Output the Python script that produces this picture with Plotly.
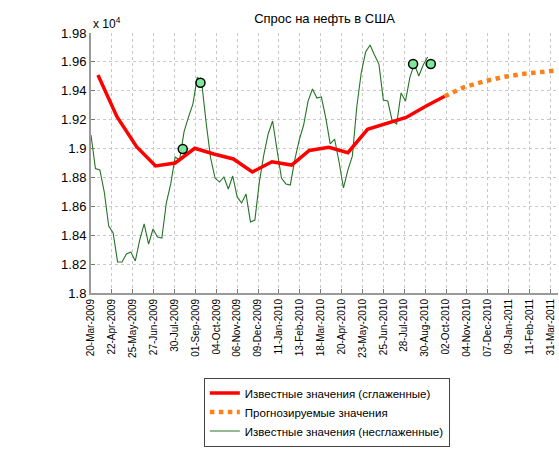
import pandas as pd
import plotly.graph_objects as go

# ---- DATA -------
# smoothed (monthly) known values
smooth_dates = pd.date_range('2009-03-31', '2010-09-30', freq='ME')
smooth_vals = [19509, 19221, 19013, 18880, 18900, 19002, 18962, 18928, 18838, 18909,
               18886, 18987, 19009, 18971, 19133, 19173, 19215, 19293, 19362]

# forecast (monthly)
fc_dates = pd.date_range('2010-09-30', '2011-03-31', freq='ME')
fc_vals = [19362, 19426, 19464, 19495, 19516, 19530, 19544]

# raw weekly known values
raw_dates = pd.date_range('2009-03-20', periods=77, freq='7D')
raw_vals = [19094, 18862, 18852, 18699, 18464, 18415, 18215, 18215, 18270, 18284,
            18222, 18367, 18478, 18339, 18443, 18388, 18381, 18623, 18755, 18942,
            18921, 19115, 19218, 19308, 19495, 19454, 19177, 18935, 18796, 18768,
            18803, 18720, 18810, 18665, 18623, 18685, 18492, 18505, 18768, 18955,
            19101, 19191, 18990, 18796, 18755, 18748, 18921, 19059, 19163, 19329,
            19412, 19350, 19357, 19212, 19032, 19066, 18907, 18727, 18852, 18948,
            19288, 19523, 19668, 19717, 19648, 19585, 19336, 19329, 19191, 19170,
            19385, 19329, 19495, 19585, 19502, 19578, 19634]

# highlighted points
mark_dates = pd.to_datetime(['2009-08-12', '2009-09-09', '2010-08-11', '2010-09-08'])
mark_vals = [18997, 19456, 19585, 19585]

# axis ticks
xtick_dates = pd.date_range('2009-03-20', periods=23, freq='33D')
xtick_text = [d.strftime('%d-%b-%Y') for d in xtick_dates[:-1]] + ['31-Mar-2011']
ytick_vals = [18000, 18200, 18400, 18600, 18800, 19000, 19200, 19400, 19600, 19800]
ytick_text = ['1.8', '1.82', '1.84', '1.86', '1.88', '1.9', '1.92', '1.94', '1.96', '1.98']

font_family = 'Liberation Sans, Arial, sans-serif'

fig = go.Figure()

fig.add_trace(go.Scatter(x=raw_dates, y=raw_vals, mode='lines',
                         line=dict(color='#267426', width=1.1),
                         name='Известные значения (несглаженные)', legendrank=3))
fig.add_trace(go.Scatter(x=smooth_dates, y=smooth_vals, mode='lines',
                         line=dict(color='#ff0000', width=3.5),
                         name='Известные значения (сглаженные)', legendrank=1))
fig.add_trace(go.Scatter(x=fc_dates, y=fc_vals, mode='lines',
                         line=dict(color='#ff8019', width=4.5, dash='dot'),
                         name='Прогнозируемые значения', legendrank=2))
fig.add_trace(go.Scatter(x=mark_dates, y=mark_vals, mode='markers',
                         marker=dict(size=9, color='#7ee89a', line=dict(color='black', width=1.5)),
                         showlegend=False, cliponaxis=False))

fig.update_layout(
    width=559, height=464,
    margin=dict(l=91, r=1, t=33, b=171, autoexpand=False),
    plot_bgcolor='white', paper_bgcolor='white',
    font=dict(family=font_family, size=12, color='black'),
    title=dict(text='Спрос на нефть в США', xref='paper', x=0.5, xanchor='center',
               yref='container', y=0.97, yanchor='top', font=dict(size=13), automargin=False),
    legend=dict(x=0.505, xanchor='center', y=-0.325, yanchor='top',
                bordercolor='#444', borderwidth=1, bgcolor='white',
                font=dict(size=11.5), tracegroupgap=0, itemwidth=30),
    showlegend=True,
)

fig.update_xaxes(
    type='date', range=['2009-03-20', '2011-03-28'],
    tickvals=xtick_dates, ticktext=xtick_text, tickangle=-90,
    tickfont=dict(size=10), automargin=False,
    showgrid=True, gridcolor='#c8c8c8', griddash='dot', gridwidth=1,
    showline=True, linecolor='#9a9a9a', linewidth=2,
    ticks='inside', ticklen=4, tickcolor='#777',
    zeroline=False,
)
fig.update_yaxes(
    range=[18000, 19800], tickvals=ytick_vals, ticktext=ytick_text,
    tickfont=dict(size=13), automargin=False,
    showgrid=True, gridcolor='#c8c8c8', griddash='dot', gridwidth=1,
    showline=True, linecolor='#9a9a9a', linewidth=2,
    ticks='inside', ticklen=4, tickcolor='#777',
    zeroline=False,
)

fig.add_annotation(text='x 10<sup>4</sup>', xref='paper', yref='paper', x=0, y=1.0,
                   xanchor='left', yanchor='bottom', showarrow=False, font=dict(size=12))

# page body has an 8px default margin, drop it so the figure sits at 0,0
fig.write_html("out.html", config={'displayModeBar': False},
               post_script="document.body.style.margin='0px';")
